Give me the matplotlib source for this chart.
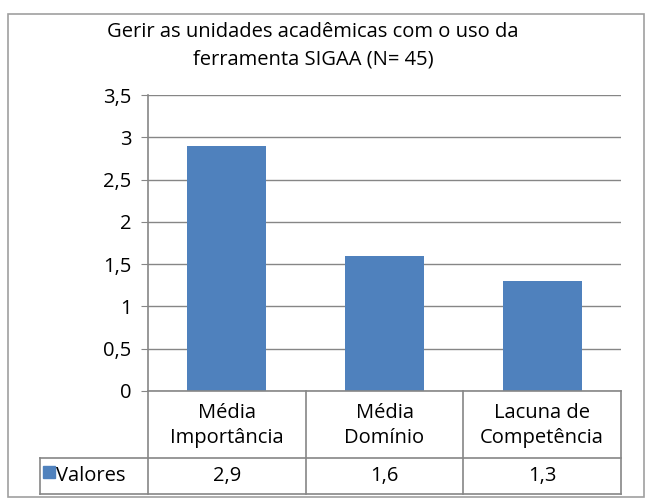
import matplotlib
matplotlib.use("Agg")
import matplotlib.pyplot as plt
from matplotlib.lines import Line2D
from matplotlib.patches import Rectangle

title = "Gerir as unidades acadêmicas com o uso da\nferramenta SIGAA (N= 45)"
categories = ["Média\nImportância", "Média\nDomínio", "Lacuna de\nCompetência"]
values = [2.9, 1.6, 1.3]
series_name = "Valores"
yticks = [0, 0.5, 1, 1.5, 2, 2.5, 3, 3.5]

W, H = 652, 504
BAR = "#4F81BD"
GRID = "#868686"
FONT = "Open Sans"
FS = 14.5

fig = plt.figure(figsize=(W / 100, H / 100), dpi=100)
plt.rcParams['font.family'] = [FONT, 'DejaVu Sans']

def fx(x):
    return x / W

def fy(y):
    return 1 - y / H

# outer border
fig.add_artist(Rectangle((fx(8), fy(497)), fx(644) - fx(8), fy(14) - fy(497),
                         transform=fig.transFigure, fill=False, ec="#A0A0A0", lw=1.2))

L, R, T, B = 148, 621, 95, 391
ax = fig.add_axes([fx(L), fy(B), fx(R) - fx(L), fy(T) - fy(B)])
x = list(range(len(categories)))
ax.bar(x, values, width=0.5, color=BAR, zorder=3)
ax.set_xlim(-0.5, len(categories) - 0.5)
ax.set_ylim(0, 3.5)
ax.set_yticks(yticks)
ax.set_yticklabels([f"{t:g}".replace(".", ",") for t in yticks], fontsize=FS)
ax.tick_params(axis="y", length=5, color=GRID, pad=7)
ax.set_xticks([])
for s in ["top", "right", "bottom"]:
    ax.spines[s].set_visible(False)
ax.spines["left"].set_color(GRID)
ax.spines["left"].set_linewidth(1.2)
ax.yaxis.grid(True, color=GRID, lw=1.0, zorder=0)
ax.set_axisbelow(True)

fig.text(fx(313), fy(46), title, ha="center", va="center", fontsize=FS, linespacing=1.5)

# data table
def hline(x0, x1, y):
    fig.add_artist(Line2D([fx(x0), fx(x1)], [fy(y), fy(y)], transform=fig.transFigure,
                          color=GRID, lw=1.2))

def vline(xx, y0, y1):
    fig.add_artist(Line2D([fx(xx), fx(xx)], [fy(y0), fy(y1)], transform=fig.transFigure,
                          color=GRID, lw=1.2))

row1, row2 = 458, 494
hline(L, R, B)
hline(40, R, row1)
hline(40, R, row2)
vline(40, row1, row2)
edges = [ax.transData.transform((i - 0.5, 0))[0] for i in range(len(categories) + 1)]
for e in edges:
    vline(e, B, row2)

trans = ax.get_xaxis_transform()
ah = B - T
for i, (c, v) in enumerate(zip(categories, values)):
    ax.text(i, -((B + row1) / 2 - B + 1) / ah, c, transform=trans, ha="center", va="center",
            fontsize=FS, linespacing=1.35, clip_on=False)
    ax.text(i, -((row1 + row2) / 2 - B) / ah, f"{v:g}".replace(".", ","), transform=trans,
            ha="center", va="center", fontsize=FS, clip_on=False)

fig.add_artist(Rectangle((fx(43), fy(478)), fx(12), 12 / H,
                         transform=fig.transFigure, color=BAR))
fig.text(fx(56), fy((row1 + row2) / 2), series_name, ha="left", va="center", fontsize=FS)

fig.savefig("out.png", dpi=100)
